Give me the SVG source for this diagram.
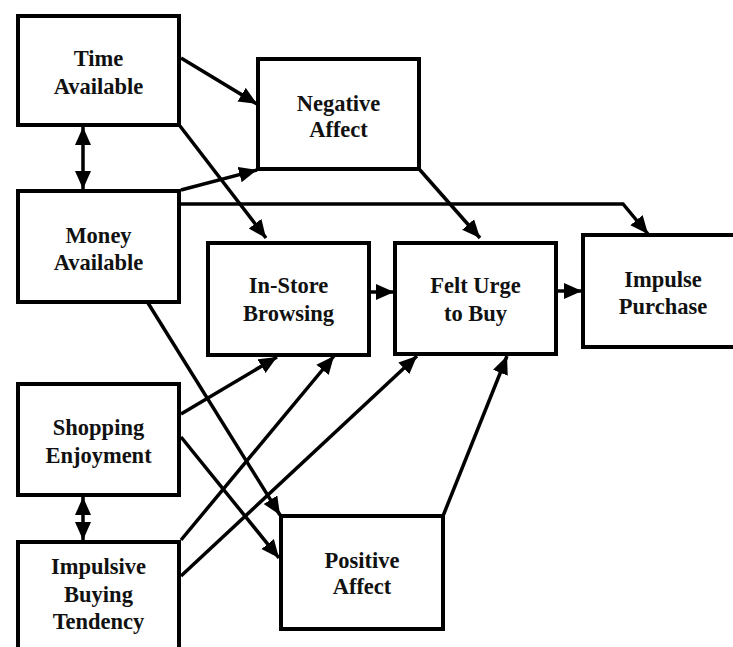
<svg xmlns="http://www.w3.org/2000/svg" width="733" height="647" viewBox="0 0 733 647">
<style>
.box{fill:#fff;stroke:#000;stroke-width:4}
.t{font-family:"Liberation Serif","Times New Roman",serif;font-weight:bold;font-size:22.5px;fill:#111;text-anchor:middle}
.c{fill:none;stroke:#000;stroke-width:3.5;stroke-linejoin:miter}
</style>
<defs>
<marker id="ah" markerUnits="userSpaceOnUse" markerWidth="20" markerHeight="18" refX="18" refY="8" orient="auto">
<path d="M0,0 L18,8 L0,16 z" fill="#000"/>
</marker>
<marker id="ahs" markerUnits="userSpaceOnUse" markerWidth="20" markerHeight="18" refX="18" refY="8" orient="auto-start-reverse">
<path d="M0,0 L18,8 L0,16 z" fill="#000"/>
</marker>
</defs>
<rect width="733" height="647" fill="#fff"/>
<g id="connectors">
<line class="c" x1="181" y1="58" x2="257" y2="104" marker-end="url(#ah)"/>
<line class="c" x1="83" y1="127" x2="83" y2="189" marker-start="url(#ahs)" marker-end="url(#ahs)"/>
<line class="c" x1="180" y1="126" x2="266" y2="238" marker-end="url(#ah)"/>
<line class="c" x1="181" y1="190" x2="257" y2="170" marker-end="url(#ah)"/>
<polyline class="c" points="181,204 623,204 648,234" marker-end="url(#ah)"/>
<line class="c" x1="148" y1="303" x2="280" y2="515" marker-end="url(#ah)"/>
<line class="c" x1="420" y1="170" x2="480" y2="238" marker-end="url(#ah)"/>
<line class="c" x1="371" y1="292" x2="394" y2="292" marker-end="url(#ah)"/>
<line class="c" x1="558" y1="291" x2="582" y2="291" marker-end="url(#ah)"/>
<line class="c" x1="181" y1="414" x2="277" y2="357" marker-end="url(#ah)"/>
<line class="c" x1="181" y1="437" x2="279" y2="558" marker-end="url(#ah)"/>
<line class="c" x1="83" y1="497" x2="83" y2="540" marker-start="url(#ahs)" marker-end="url(#ahs)"/>
<line class="c" x1="181" y1="540" x2="334" y2="356" marker-end="url(#ah)"/>
<line class="c" x1="181" y1="576" x2="417" y2="356" marker-end="url(#ah)"/>
<line class="c" x1="443" y1="516" x2="507" y2="356" marker-end="url(#ah)"/>
</g>
<g id="time">
<rect class="box" x="18" y="16" width="161" height="109"/>
<text class="t" x="98.5" y="66">Time</text>
<text class="t" x="98.5" y="94">Available</text>
</g>
<g id="money">
<rect class="box" x="18" y="191" width="161" height="111"/>
<text class="t" x="98.5" y="243">Money</text>
<text class="t" x="98.5" y="270">Available</text>
</g>
<g id="shopping">
<rect class="box" x="18" y="384" width="161" height="111"/>
<text class="t" x="98.5" y="435">Shopping</text>
<text class="t" x="98.5" y="463">Enjoyment</text>
</g>
<g id="impulsive">
<rect class="box" x="18" y="542" width="161" height="120"/>
<text class="t" x="98.5" y="574">Impulsive</text>
<text class="t" x="98.5" y="602">Buying</text>
<text class="t" x="98.5" y="629">Tendency</text>
</g>
<g id="negative">
<rect class="box" x="258" y="59" width="161" height="110"/>
<text class="t" x="338.5" y="111">Negative</text>
<text class="t" x="338.5" y="137">Affect</text>
</g>
<g id="instore">
<rect class="box" x="208" y="243" width="161" height="112"/>
<text class="t" x="288.5" y="293">In-Store</text>
<text class="t" x="288.5" y="321">Browsing</text>
</g>
<g id="felturge">
<rect class="box" x="395" y="243" width="161" height="111"/>
<text class="t" x="475.5" y="293">Felt Urge</text>
<text class="t" x="475.5" y="321">to Buy</text>
</g>
<g id="impulse">
<rect class="box" x="583" y="235" width="160" height="112"/>
<text class="t" x="663" y="287">Impulse</text>
<text class="t" x="663" y="314">Purchase</text>
</g>
<g id="positive">
<rect class="box" x="281" y="516" width="162" height="113"/>
<text class="t" x="362" y="568">Positive</text>
<text class="t" x="362" y="594">Affect</text>
</g>
</svg>
